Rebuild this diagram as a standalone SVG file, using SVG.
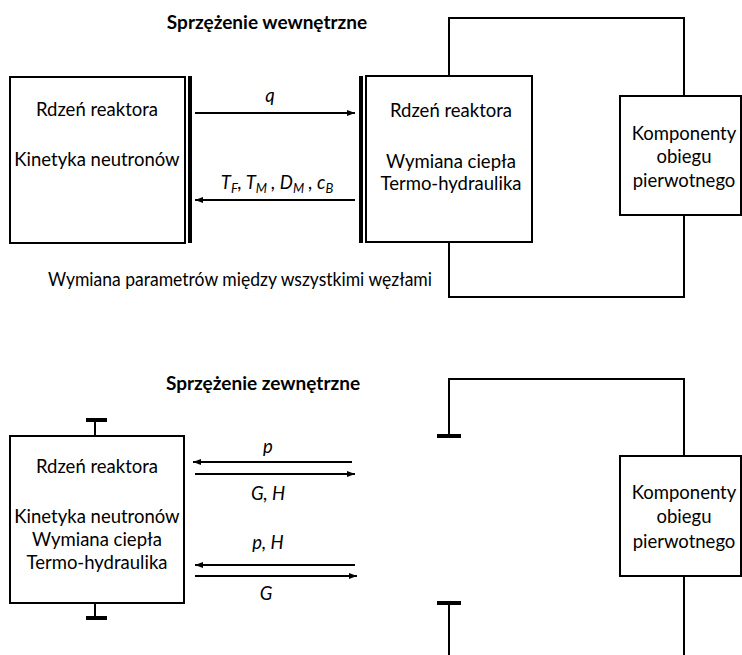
<svg xmlns="http://www.w3.org/2000/svg" width="742" height="655" viewBox="0 0 742 655">
<defs>
<marker id="ah" markerWidth="8" markerHeight="6" refX="8" refY="3" orient="auto" markerUnits="userSpaceOnUse">
<path d="M0,0 L8,3 L0,6 Z" fill="#000"/>
</marker>
<style>
text{font-family:Lato,"Open Sans","Liberation Sans",sans-serif;font-size:18.5px;fill:#000;text-anchor:middle}
.t{font-weight:bold;font-size:19px}
.i{font-style:italic}
.s{font-size:13px;font-style:italic}
.box{fill:#fff;stroke:#000;stroke-width:2}
.ln{fill:none;stroke:#000;stroke-width:2}
.bar{stroke:#000;stroke-width:4}
</style>
</defs>
<rect width="742" height="655" fill="#fff"/>

<g id="connectors">
<path class="ln" d="M449,76 V18 H684 V96"/>
<path class="ln" d="M449,242 V297 H684 V215"/>
<line class="bar" x1="190" y1="76" x2="190" y2="243"/>
<line class="bar" x1="361" y1="76" x2="361" y2="243"/>
<line class="ln" x1="195" y1="113" x2="355" y2="113" marker-end="url(#ah)"/>
<line class="ln" x1="355" y1="200" x2="195" y2="200" marker-end="url(#ah)"/>
<line class="ln" x1="95" y1="436" x2="95" y2="420"/>
<line class="bar" x1="86" y1="420" x2="107" y2="420"/>
<line class="ln" x1="95" y1="603" x2="95" y2="618"/>
<line class="bar" x1="86" y1="618" x2="107" y2="618"/>
<line class="ln" x1="352" y1="462" x2="193" y2="462" marker-end="url(#ah)"/>
<line class="ln" x1="195" y1="474" x2="355" y2="474" marker-end="url(#ah)"/>
<line class="ln" x1="355" y1="565" x2="195" y2="565" marker-end="url(#ah)"/>
<line class="ln" x1="195" y1="576" x2="357" y2="576" marker-end="url(#ah)"/>
<path class="ln" d="M449,436 V379 H684 V456"/>
<line class="bar" x1="437" y1="436" x2="461" y2="436"/>
<path class="ln" d="M449,603 V655"/>
<line class="bar" x1="437" y1="603" x2="461" y2="603"/>
<path class="ln" d="M684,576 V655"/>
</g>

<text class="t" x="267" y="29">Sprzężenie wewnętrzne</text>
<text class="t" x="263" y="390">Sprzężenie zewnętrzne</text>

<g id="core-neutronics">
<rect class="box" x="10" y="77" width="175" height="166"/>
<text x="97" y="116">Rdzeń reaktora</text>
<text x="97" y="166">Kinetyka neutronów</text>
</g>

<g id="core-thermal">
<rect class="box" x="366" y="76" width="166" height="166"/>
<text x="451" y="117">Rdzeń reaktora</text>
<text x="451" y="168">Wymiana ciepła</text>
<text x="451" y="190">Termo-hydraulika</text>
</g>

<g id="primary-top">
<rect class="box" x="620" y="96" width="121" height="119"/>
<text x="684" y="140">Komponenty</text>
<text x="684" y="163">obiegu</text>
<text x="684" y="187">pierwotnego</text>
</g>

<g id="core-full">
<rect class="box" x="10" y="436" width="174" height="167"/>
<text x="97" y="473">Rdzeń reaktora</text>
<text x="97" y="523">Kinetyka neutronów</text>
<text x="97" y="546">Wymiana ciepła</text>
<text x="97" y="569">Termo-hydraulika</text>
</g>

<g id="primary-bottom">
<rect class="box" x="620" y="456" width="121" height="120"/>
<text x="684" y="499">Komponenty</text>
<text x="684" y="523">obiegu</text>
<text x="684" y="548">pierwotnego</text>
</g>

<g id="labels">
<text class="i" x="270" y="102">q</text>
<text class="i" x="277" y="189">T<tspan class="s" dy="4">F</tspan><tspan dy="-4">, T</tspan><tspan class="s" dy="4">M</tspan><tspan dy="-4"> , D</tspan><tspan class="s" dy="4">M</tspan><tspan dy="-4"> , c</tspan><tspan class="s" dy="4">B</tspan></text>
<text x="240" y="286" textLength="384" lengthAdjust="spacingAndGlyphs">Wymiana parametrów między wszystkimi węzłami</text>
<text class="i" x="268" y="453">p</text>
<text class="i" x="268" y="500">G, H</text>
<text class="i" x="268" y="549">p, H</text>
<text class="i" x="266" y="600">G</text>
</g>
</svg>
